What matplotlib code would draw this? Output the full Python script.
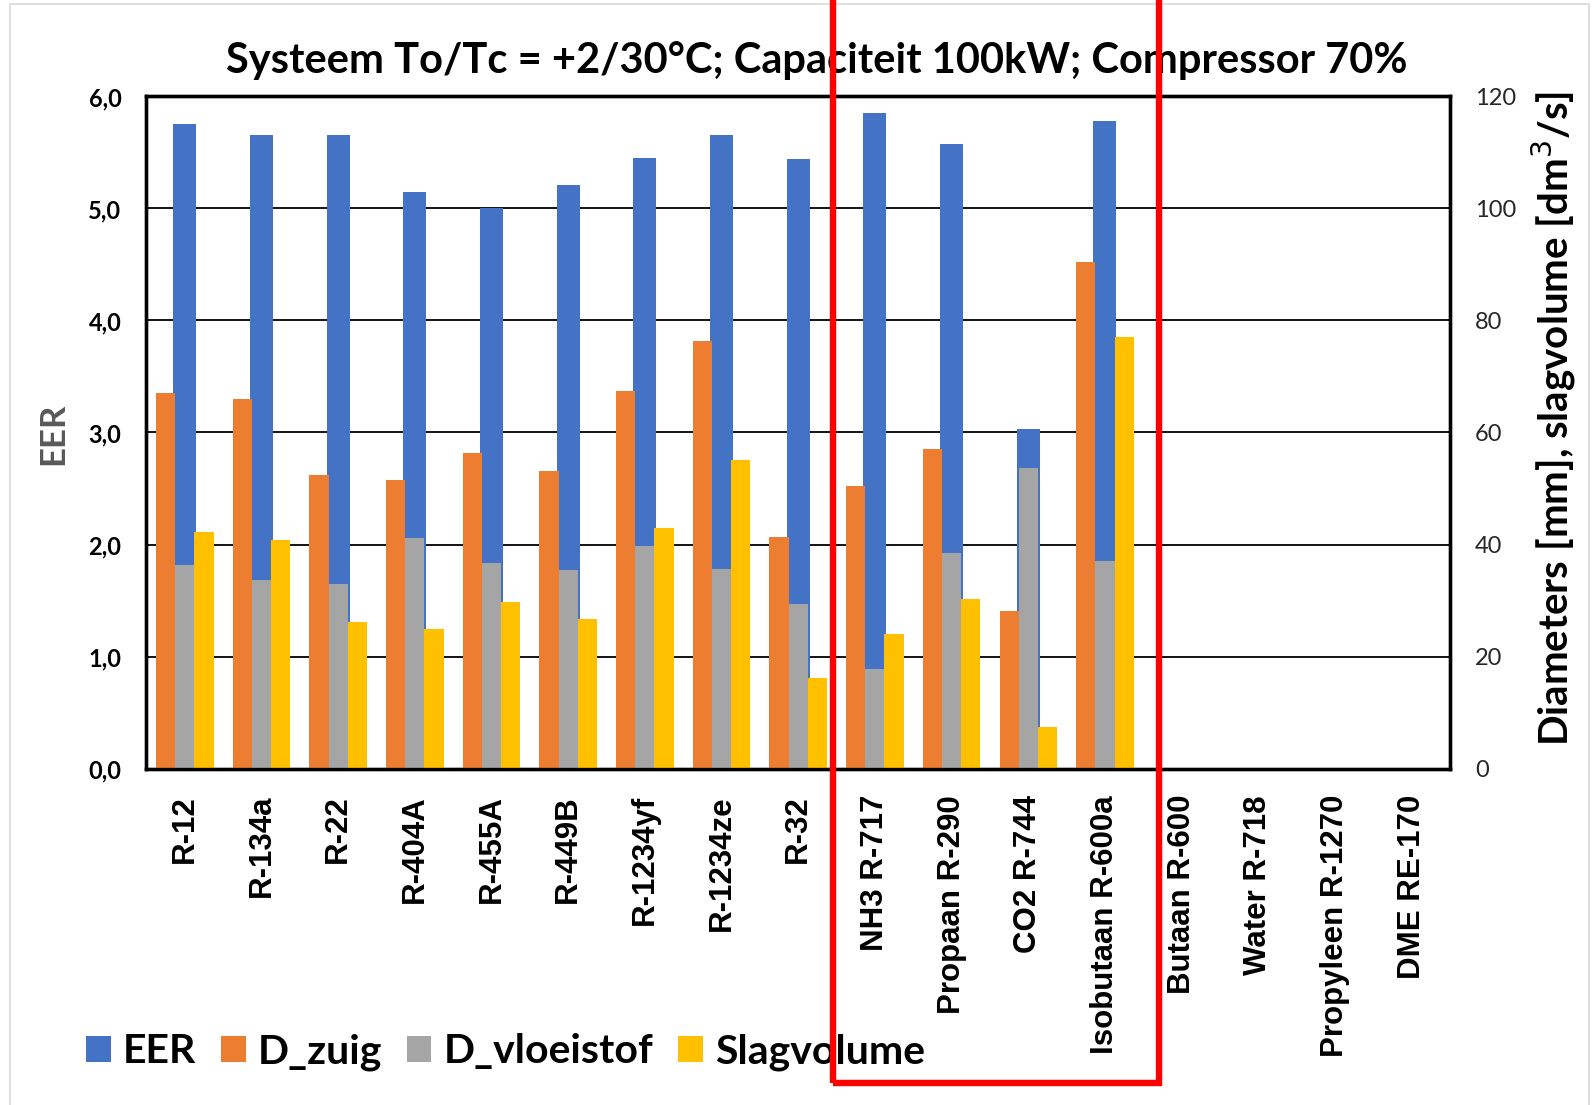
import numpy as np
import matplotlib
matplotlib.use("Agg")
import matplotlib.pyplot as plt
from matplotlib.patches import Rectangle

nan = np.nan

categories = ['R-12', 'R-134a', 'R-22', 'R-404A', 'R-455A', 'R-449B', 'R-1234yf',
              'R-1234ze', 'R-32', 'NH3 R-717', 'Propaan R-290', 'CO2 R-744',
              'Isobutaan R-600a', 'Butaan R-600', 'Water R-718', 'Propyleen R-1270',
              'DME RE-170']

eer = [5.75, 5.66, 5.66, 5.15, 5.00, 5.21, 5.45, 5.66, 5.44, 5.85, 5.58, 3.03, 5.78,
       nan, nan, nan, nan]
d_zuig = [67.0, 66.0, 52.5, 51.5, 56.3, 53.2, 67.4, 76.3, 41.4, 50.5, 57.0, 28.2, 90.5,
          nan, nan, nan, nan]
d_vloeistof = [36.3, 33.6, 32.9, 41.2, 36.7, 35.4, 39.8, 35.6, 29.3, 17.7, 38.5, 53.7, 37.0,
               nan, nan, nan, nan]
slagvolume = [42.2, 40.8, 26.2, 24.9, 29.8, 26.7, 42.9, 55.0, 16.2, 24.0, 30.3, 7.5, 77.0,
              nan, nan, nan, nan]

title = 'Systeem To/Tc = +2/30°C; Capaciteit 100kW; Compressor 70%'

c_blue = '#4472C4'
c_orange = '#ED7D31'
c_gray = '#A5A5A5'
c_yellow = '#FFC000'

calibri = ['Lato', 'DejaVu Sans']
arial = ['Liberation Sans', 'DejaVu Sans']

fig = plt.figure(figsize=(15.92, 11.05), dpi=100)
ax = fig.add_axes([0.0920, 0.3045, 0.8188, 0.6082])
ax2 = ax.twinx()

x = np.arange(len(categories))
w = 0.25

ax.bar(x, eer, width=0.30, color=c_blue, label='EER', zorder=2)
ax2.bar(x - w, d_zuig, width=w, color=c_orange, label='D_zuig')
ax2.bar(x, d_vloeistof, width=w, color=c_gray, label='D_vloeistof')
ax2.bar(x + w, slagvolume, width=w, color=c_yellow, label='Slagvolume')

ax.set_xlim(-0.5, len(categories) - 0.5)
ax.set_ylim(0, 6)
ax2.set_ylim(0, 120)
ax.set_yticks(np.arange(0, 6.01, 1.0))
ax.set_yticklabels([f'{v:.1f}'.replace('.', ',') for v in np.arange(0, 6.01, 1.0)],
                   family=calibri, fontsize=17, fontweight='bold')
ax2.set_yticks(np.arange(0, 121, 20))
ax2.set_yticklabels([str(v) for v in range(0, 121, 20)], family=calibri, fontsize=17,
                    color='#262626')

ax.set_xticks(x)
ax.set_xticklabels(categories, rotation=90, family=arial, fontsize=22.5,
                   fontweight='bold', va='top')
ax.tick_params(axis='x', length=0, pad=19)
ax.tick_params(axis='y', length=0, pad=18)
ax2.tick_params(axis='y', length=0, pad=18)

ax.grid(axis='y', color='black', linewidth=1.3, zorder=0)
ax.set_axisbelow(True)
for a in (ax, ax2):
    for s in a.spines.values():
        s.set_linewidth(2.4)
        s.set_color('black')

fig.text(0.0332, 0.6077, 'EER', rotation=90, ha='center', va='center', family=calibri,
         fontsize=25, fontweight='bold', color='#595959')
fig.text(0.9758, 0.621, 'Diameters [mm], slagvolume [dm$^3$/s]', rotation=90,
         ha='center', va='center', family=calibri, fontsize=29, fontweight='bold')

fig.text(0.513, 0.945, title, ha='center', va='center', family=calibri,
         fontsize=30, fontweight='bold')

h1, l1 = ax.get_legend_handles_labels()
h2, l2 = ax2.get_legend_handles_labels()
fig.legend(h1 + h2, l1 + l2, loc='center left', bbox_to_anchor=(0.031, 0.048),
           ncol=4, frameon=False,
           prop={'family': calibri, 'size': 29.5, 'weight': 'bold'},
           handlelength=0.6, handleheight=0.6, handletextpad=0.3, columnspacing=0.6)

# red highlight box, drawn over everything
fig.patches.append(Rectangle((0.5235, 0.0195), 0.2045, 1.0, transform=fig.transFigure,
                             fill=False, edgecolor='#FF0000', linewidth=4.6,
                             clip_on=False, zorder=10))
# light chart border
fig.patches.append(Rectangle((0.006, -0.01), 0.992, 1.006, transform=fig.transFigure,
                             fill=False, edgecolor='#D9D9D9', linewidth=1.2))

fig.savefig('out.png', dpi=100)
